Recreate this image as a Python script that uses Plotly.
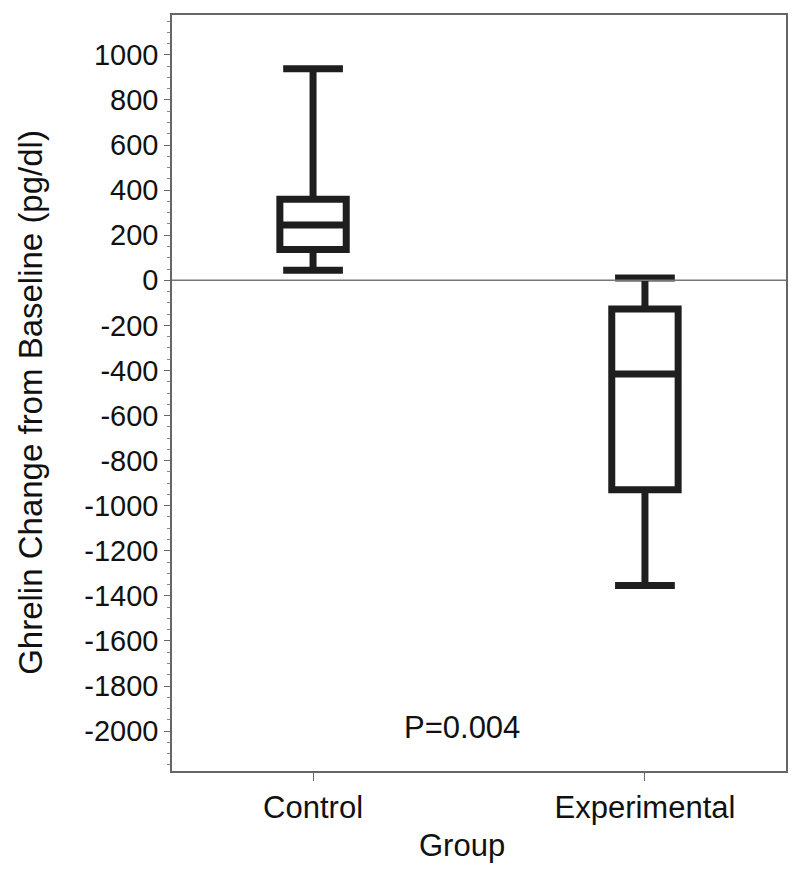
import plotly.graph_objects as go

groups = ["Control", "Experimental"]
q1 = [137, -929]
median = [245, -416]
q3 = [360, -127]
lowerfence = [45, -1354]
upperfence = [938, 10]
ytick_vals = list(range(-2000, 1001, 200))
ytick_text = [str(v) for v in ytick_vals]  # plain hyphen minus like the original

FONT = "Liberation Sans"
ink = "#1e1e1e"
txt = "#111111"

fig = go.Figure()
for i, g in enumerate(groups):
    fig.add_trace(go.Box(
        x=[g], q1=[q1[i]], median=[median[i]], q3=[q3[i]],
        lowerfence=[lowerfence[i]], upperfence=[upperfence[i]],
        line=dict(color=ink, width=7), fillcolor="rgba(0,0,0,0)",
        width=0.2, whiskerwidth=0.9, boxpoints=False, showlegend=False,
    ))

fig.add_hline(y=0, line=dict(color="#777777", width=1.5))

fig.add_annotation(x=0.45, y=-1982, text="P=0.004", showarrow=False,
                   font=dict(family=FONT, size=31, color=txt))

# axis titles as annotations, they sit a bit off-centre in the original
fig.add_annotation(x=0.472, y=-0.099, xref="paper", yref="paper", text="Group",
                   showarrow=False, yanchor="middle",
                   font=dict(family=FONT, size=31, color=txt))
fig.add_annotation(x=-0.2296, y=0.487, xref="paper", yref="paper",
                   text="Ghrelin Change from Baseline (pg/dl)", textangle=-90,
                   showarrow=False, xanchor="center", yanchor="middle",
                   font=dict(family=FONT, size=33, color=txt))

# page has an 8px body margin, so margins are shifted by it
fig.update_layout(
    width=800, height=873,
    margin=dict(l=164, r=22, t=5, b=110),
    plot_bgcolor="white", paper_bgcolor="white",
    font=dict(family=FONT, color=txt),
)
fig.update_xaxes(
    range=[-0.425, 1.425], showline=True, mirror=True, linecolor="#666666", linewidth=1.5,
    ticks="outside", ticklen=8, tickcolor="#666666", showgrid=False,
    tickfont=dict(size=31, family=FONT, color=txt),
)
fig.update_yaxes(
    range=[-2177, 1177], tickvals=ytick_vals, ticktext=ytick_text,
    showline=True, mirror=True, linecolor="#666666", linewidth=1.5,
    ticks="outside", ticklen=6, tickcolor="#666666", showgrid=False, zeroline=False,
    minor=dict(dtick=50, ticks="outside", ticklen=3, tickcolor="#888888"),
    tickfont=dict(size=29, family=FONT, color=txt),
)

fig.write_html("out.html")
